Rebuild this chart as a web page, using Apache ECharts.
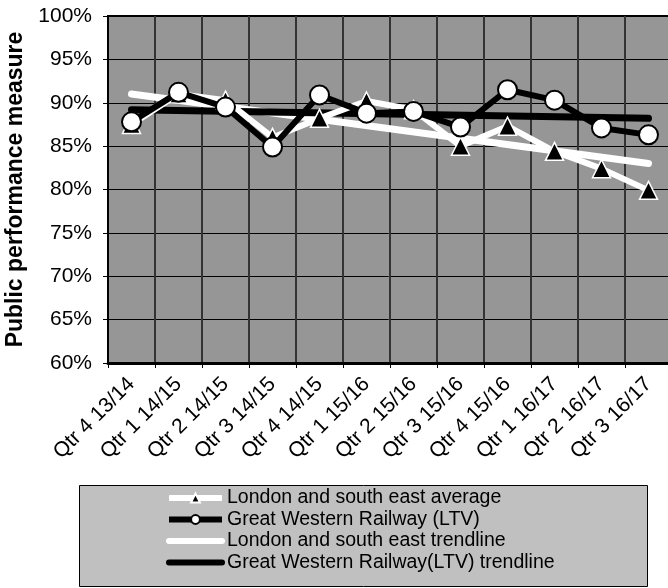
<!DOCTYPE html>
<html>
<head>
<meta charset="utf-8">
<script src="https://cdn.jsdelivr.net/npm/echarts@6/dist/echarts.min.js"></script>
<style>
html,body{margin:0;padding:0;background:#fff;}
#chart{width:668px;height:588px;}
</style>
</head>
<body>
<div id="chart"></div>
<script>
const categories = ['Qtr 4 13/14','Qtr 1 14/15','Qtr 2 14/15','Qtr 3 14/15','Qtr 4 14/15','Qtr 1 15/16','Qtr 2 15/16','Qtr 3 15/16','Qtr 4 15/16','Qtr 1 16/17','Qtr 2 16/17','Qtr 3 16/17'];
const lseAverage = [87.5, 91.0, 90.3, 86.0, 88.2, 90.2, 89.2, 85.0, 87.3, 84.4, 82.4, 79.9];
const gwrLtv = [87.8, 91.2, 89.5, 84.9, 90.9, 88.8, 89.0, 87.2, 91.5, 90.3, 87.1, 86.3];
const lseTrend = [91.0, null, null, null, null, null, null, null, null, null, null, 83.0];
const gwrTrend = [89.2, null, null, null, null, null, null, null, null, null, null, 88.2];
const seriesNames = ['London and south east average','Great Western Railway (LTV)','London and south east trendline','Great Western Railway(LTV) trendline'];
const yTitle = 'Public performance measure';

const FONT = "'Liberation Sans', Arial, sans-serif";
const chart = echarts.init(document.getElementById('chart'), null, {renderer:'canvas'});
chart.setOption({
  animation: false,
  backgroundColor: '#ffffff',
  textStyle: {fontFamily: FONT},
  grid: {left: 108, top: 16, width: 564, height: 347, show: true, containLabel: false, outerBoundsMode: 'none',
         backgroundColor: '#969696', borderColor: '#000', borderWidth: 2},
  graphic: [{
    type: 'rect', left: 79, top: 485, z: -1,
    shape: {width: 568, height: 101},
    style: {fill: '#c0c0c0', stroke: '#000', lineWidth: 1}
  }],
  legend: {
    orient: 'vertical', left: 166, top: 488, padding: 0,
    itemWidth: 53, itemHeight: 11, itemGap: 1.5,
    data: [
      {name: seriesNames[0], lineStyle: {width: 6}},
      {name: seriesNames[1], lineStyle: {width: 6}},
      {name: seriesNames[2], lineStyle: {width: 6}, itemStyle: {opacity: 0}},
      {name: seriesNames[3], lineStyle: {width: 6}, itemStyle: {opacity: 0}}
    ],
    textStyle: {fontFamily: FONT, fontSize: 19.5, color: '#000', lineHeight: 18}
  },
  xAxis: {
    type: 'category', data: categories, boundaryGap: true,
    axisLine: {lineStyle: {color: '#000', width: 3}},
    axisTick: {show: true, length: 5, lineStyle: {color: '#000', width: 1}},
    splitLine: {show: true, lineStyle: {color: '#333', width: 2}},
    axisLabel: {interval: 0, rotate: 45, margin: 18, fontSize: 21, color: '#000', fontFamily: FONT}
  },
  yAxis: {
    type: 'value', min: 60, max: 100, interval: 5,
    name: yTitle, nameLocation: 'middle', nameGap: 79,
    nameTextStyle: {fontSize: 23, fontWeight: 'bold', color: '#000', fontFamily: FONT},
    axisLine: {show: true, lineStyle: {color: '#000', width: 2}},
    axisTick: {show: true, length: 5, lineStyle: {color: '#000'}},
    splitLine: {show: true, lineStyle: {color: '#000', width: 1}},
    axisLabel: {formatter: '{value}%', fontSize: 21, color: '#000', margin: 16, fontFamily: FONT}
  },
  series: [
    {name: seriesNames[0], type: 'line', data: lseAverage, z: 3,
     symbol: 'triangle', symbolSize: 18,
     lineStyle: {color: '#fff', width: 6},
     itemStyle: {color: '#000', borderColor: '#fff', borderWidth: 1.5}},
    {name: seriesNames[1], type: 'line', data: gwrLtv, z: 4,
     symbol: 'circle', symbolSize: 19,
     lineStyle: {color: '#000', width: 6},
     itemStyle: {color: '#fff', borderColor: '#000', borderWidth: 2}},
    {name: seriesNames[2], type: 'line', data: lseTrend, z: 2, connectNulls: true,
     symbol: 'none', lineStyle: {color: '#fff', width: 7, cap: 'round'}, itemStyle: {color: '#fff'}},
    {name: seriesNames[3], type: 'line', data: gwrTrend, z: 2, connectNulls: true,
     symbol: 'none', lineStyle: {color: '#000', width: 7, cap: 'round'}, itemStyle: {color: '#000'}}
  ]
});
</script>
</body>
</html>
